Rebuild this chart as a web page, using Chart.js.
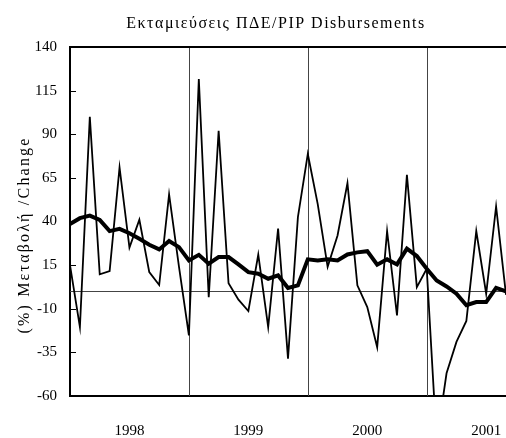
<!DOCTYPE html>
<html>
<head>
<meta charset="utf-8">
<script src="https://cdn.jsdelivr.net/npm/chart.js@4.4.0/dist/chart.umd.min.js"></script>
<style>
  html, body { margin: 0; padding: 0; background: #fff; }
  #wrap { width: 506px; height: 438px; }
</style>
</head>
<body>
<div id="wrap"><canvas id="chart"></canvas></div>
<script>
const titleText = "Εκταμιεύσεις ΠΔΕ/PIP Disbursements";
const yTitleText = "(%) Μεταβολή /Change";

const yearLabels = ["1998", "1999", "2000", "2001"];
const yearTickIndex = [6, 18, 30, 42];
const yearBreakIndex = [12, 24, 36];

// monthly % change (thin line)
const monthly = [
  15, -20.5, 100, 9.7, 11.6, 71, 25, 41, 11, 3.6, 55.5, 14,
  -25.3, 121.7, -3.4, 92, 4.6, -4.8, -11.3, 21, -20.5, 36, -38.6, 42.5,
  78.7, 50, 14, 32, 62, 3.4, -9, -32, 34.5, -13.8, 66.7, 2.4,
  12.9, -86, -47, -29, -17, 34.5, -1.4, 48.6, -2
];

// smoothed series (thick line)
const smoothed = [
  38.6, 41.9, 43.4, 40.9, 34.5, 35.8, 33.3, 30.1, 26.7, 24, 28.8, 25.3,
  17.7, 20.9, 15.8, 19.6, 19.6, 15.4, 11, 10.1, 7.2, 9.1, 1.9, 3.4,
  18.3, 17.7, 18.3, 17.7, 21.1, 22.3, 23, 15.2, 18.3, 15.4, 24.4, 20.2,
  12.9, 6.2, 2.8, -1.4, -8, -6.2, -6.2, 2, 0
];

const months = monthly.map((_, i) =>
  (1998 + Math.floor(i / 12)) + "-" + String(i % 12 + 1).padStart(2, "0"));

const serif = "'Liberation Serif', 'Times New Roman', serif";

const frame = {
  id: "frame",
  beforeDatasetsDraw(chart) {
    const { ctx, chartArea: a, scales: { x, y } } = chart;
    ctx.save();
    ctx.strokeStyle = "#444";
    ctx.lineWidth = 1;
    const y0 = Math.round(y.getPixelForValue(0)) + 0.5;
    ctx.beginPath();
    ctx.moveTo(a.left, y0);
    ctx.lineTo(a.right, y0);
    ctx.stroke();
    yearBreakIndex.forEach(i => {
      const px = Math.round(x.getPixelForValue(i)) + 0.5;
      ctx.beginPath();
      ctx.moveTo(px, a.top);
      ctx.lineTo(px, a.bottom);
      ctx.stroke();
    });
    ctx.strokeStyle = "#000";
    y.ticks.forEach(t => {
      const py = Math.round(y.getPixelForValue(t.value)) + 0.5;
      ctx.beginPath();
      ctx.moveTo(a.left, py);
      ctx.lineTo(a.left + 6, py);
      ctx.stroke();
    });
    ctx.restore();
  },
  afterDraw(chart) {
    const { ctx, chartArea: a } = chart;
    ctx.save();
    ctx.strokeStyle = "#000";
    ctx.lineWidth = 2;
    ctx.beginPath();
    ctx.moveTo(a.left - 1, a.top);
    ctx.lineTo(a.right, a.top);
    ctx.stroke();

    ctx.fillStyle = "#000";
    ctx.font = "16px " + serif;
    ctx.letterSpacing = "1.5px";
    ctx.textAlign = "center";
    ctx.textBaseline = "alphabetic";
    ctx.fillText(titleText, 276, 28);

    ctx.letterSpacing = "2.2px";
    ctx.translate(28.5, 235);
    ctx.rotate(-Math.PI / 2);
    ctx.fillText(yTitleText, 0, 0);
    ctx.restore();
  }
};

new Chart(document.getElementById("chart"), {
  type: "line",
  data: {
    labels: months,
    datasets: [
      { label: "Smoothed", data: smoothed, borderColor: "#000", borderWidth: 4,
        pointRadius: 0, tension: 0, order: 0 },
      { label: "Monthly", data: monthly, borderColor: "#000", borderWidth: 1.8,
        pointRadius: 0, tension: 0, order: 1 }
    ]
  },
  options: {
    responsive: true,
    maintainAspectRatio: false,
    animation: false,
    layout: { padding: { top: 47, left: 0, right: 0, bottom: 0 } },
    plugins: { legend: { display: false }, tooltip: { enabled: false }, title: { display: false } },
    scales: {
      x: {
        type: "category",
        offset: false,
        grid: { display: false, drawTicks: false },
        border: { display: true, color: "#000", width: 2 },
        ticks: {
          autoSkip: false,
          maxRotation: 0,
          padding: 26,
          color: "#000",
          font: { family: serif, size: 15 },
          callback: (v, i) => {
            const k = yearTickIndex.indexOf(i);
            return k >= 0 ? yearLabels[k] : "";
          }
        },
        afterFit: s => { s.height = 42; s.paddingLeft = 0; s.paddingRight = 0; }
      },
      y: {
        min: -60,
        max: 140,
        grid: { display: false, drawTicks: false },
        border: { display: true, color: "#000", width: 2 },
        ticks: {
          stepSize: 25,
          padding: 13,
          color: "#000",
          font: { family: serif, size: 15 }
        },
        afterFit: s => { s.width = 70; }
      }
    }
  },
  plugins: [frame]
});
</script>
</body>
</html>
